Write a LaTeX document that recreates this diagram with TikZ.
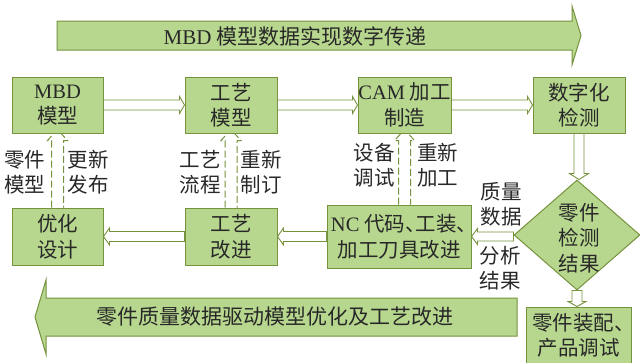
\documentclass[tikz,border=0pt]{standalone}
\usepackage{fontspec}
\setmainfont{Liberation Serif}
\newfontfamily\cjk{Noto Sans CJK SC}
\usetikzlibrary{calc,shapes.geometric,backgrounds}
\definecolor{fl}{RGB}{183,215,142}
\definecolor{bd}{RGB}{118,146,60}
\definecolor{tx}{RGB}{40,40,40}
\newcommand\lat[1]{{\rmfamily #1}}
\begin{document}
\begin{tikzpicture}[x=1pt,y=-1pt,
  box/.style={draw=bd, fill=fl, line width=1pt, inner sep=0pt, align=center, text=tx, font=\cjk\fontsize{20.5}{25.5}\selectfont},
  lbl/.style={inner sep=0pt, align=center, text=tx, font=\cjk\fontsize{20.5}{25.5}\selectfont},
  bigtxt/.style={inner sep=0pt, text=tx, font=\cjk\fontsize{21}{25}\selectfont},
  holl/.style={draw=bd, fill=white, line width=0.9pt, line join=miter},
  dholl/.style={draw=bd, line width=1pt, dash pattern=on 7pt off 3pt},
  big/.style={draw=bd, fill=fl, line width=1pt, line join=miter}]
\useasboundingbox (0,0) rectangle (640,362);

% top big arrow
\draw[big] (57,21) -- (572,21) -- (572,6) -- (581,35.5) -- (572,65) -- (572,50) -- (57,50) -- cycle;
\node[bigtxt] (ttop) at (295,36) {\lat{MBD} 模型数据实现数字传递};

% bottom big arrow
\draw[big] (517,298) -- (46,298) -- (46,280) -- (35,317) -- (46,354) -- (46,336) -- (517,336) -- cycle;
\node[bigtxt] (tbot) at (275,317) {零件质量数据驱动模型优化及工艺改进};

% boxes
\node[box, minimum width=91, minimum height=56] (mbd) at (57.5,105) {\lat{MBD}\\模型};
\node[box, minimum width=92, minimum height=56] (gy) at (231,105) {工艺\\模型};
\node[box, minimum width=93, minimum height=56] (cam) at (404.5,105) {\lat{CAM} 加工\\制造};
\node[box, minimum width=92, minimum height=56] (jc) at (579,105) {数字化\\检测};
\node[box, minimum width=91, minimum height=57] (yh) at (57.5,236.5) {优化\\设计};
\node[box, minimum width=92, minimum height=57] (gg) at (231,236.5) {工艺\\改进};
\node[box, minimum width=144, minimum height=63] (nc) at (399,236.5) {\lat{NC} 代码、\kern-10pt 工装、\kern-10pt\\加工刀具改进};
\node[box, diamond, minimum width=126, minimum height=110] (dm) at (577,235) {};
\node[lbl] (dmt) at (579,238) {零件\\检测\\结果};
\node[box, minimum width=105, minimum height=57] (asm) at (578.5,335.5) {零件装配、\kern-10pt\\产品调试};

% dashed hollow up arrows (behind boxes)
\begin{scope}[on background layer]
\foreach \lo/\up in {yh/mbd, gg/gy, nc/cam}{
  \draw[dholl] let \p1=(\lo.north), \p2=(\up.south) in
    (\x2-6,\y1) -- (\x2-6,\y2-7) -- (\x2-10,\y2-7) -- (\x2,\y2+4) -- (\x2+10,\y2-7) -- (\x2+6,\y2-7) -- (\x2+6,\y1);
}
\end{scope}

% hollow right arrows (top row)
\foreach \a/\b in {mbd/gy, gy/cam, cam/jc}{
  \draw[holl] let \p1=(\a.east), \p2=(\b.west) in
    (\x1,\y1+5) -- (\x2-5,\y1+5) -- (\x2-5,\y1+8.5) -- (\x2,\y1) -- (\x2-5,\y1-8.5) -- (\x2-5,\y1-5) -- (\x1,\y1-5) -- cycle;
}
% hollow left arrows (bottom row)
\foreach \a/\b in {gg/yh, nc/gg}{
  \draw[holl] let \p1=(\a.west), \p2=(\b.east) in
    (\x1,\y1+5) -- (\x2+6,\y1+5) -- (\x2+6,\y1+8.5) -- (\x2,\y1) -- (\x2+6,\y1-8.5) -- (\x2+6,\y1-5) -- (\x1,\y1-5) -- cycle;
}
\draw[holl] let \p1=(dm.west), \p2=(nc.east) in
    (\x1,\y2+4.5) -- (\x2+6,\y2+4.5) -- (\x2+6,\y2+8) -- (\x2,\y2) -- (\x2+6,\y2-8) -- (\x2+6,\y2-4.5) -- (\x1,\y2-4.5) -- cycle;

% hollow down arrows
\draw[holl] let \p1=(jc.south), \p2=(dm.north) in
    (\x1-5,\y1) -- (\x1-5,\y2+6) -- (\x1-9.5,\y2+6) -- (\x1,\y2) -- (\x1+9.5,\y2+6) -- (\x1+5,\y2+6) -- (\x1+5,\y1) -- cycle;
\draw[holl] let \p1=(dm.south), \p2=(asm.north) in
    (\x1-5,\y1) -- (\x1-5,\y2+5) -- (\x1-9,\y2+5) -- (\x1,\y2) -- (\x1+9,\y2+5) -- (\x1+5,\y2+5) -- (\x1+5,\y1) -- cycle;

% labels
\node[lbl] (l1) at (25,172) {零件\\模型};
\node[lbl] (l2) at (88,172) {更新\\发布};
\node[lbl] (l3) at (200,172) {工艺\\流程};
\node[lbl] (l4) at (261,172) {重新\\制订};
\node[lbl] (l5) at (374,165) {设备\\调试};
\node[lbl] (l6) at (437.5,165) {重新\\加工};
\node[lbl] (l7) at (501,204.5) {质量\\数据};
\node[lbl] (l8) at (500,268) {分析\\结果};
\end{tikzpicture}
\end{document}
